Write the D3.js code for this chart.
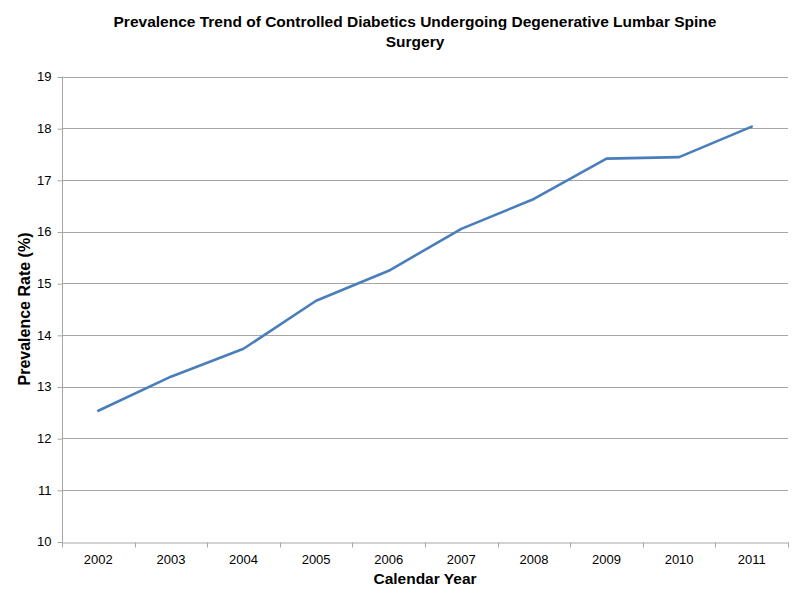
<!DOCTYPE html>
<html>
<head>
<meta charset="utf-8">
<script src="https://cdn.jsdelivr.net/npm/d3@7"></script>
<style>
body { margin: 0; background: #fff; }
text { font-family: "Liberation Sans", Arial, sans-serif; }
</style>
</head>
<body>
<svg id="chart" width="800" height="600"></svg>
<script>
const years = ["2002","2003","2004","2005","2006","2007","2008","2009","2010","2011"];
const prevalence = [12.53, 13.19, 13.73, 14.66, 15.24, 16.05, 16.63, 17.41, 17.44, 18.03];
const yTicks = [10, 11, 12, 13, 14, 15, 16, 17, 18, 19];
const titleLines = ["Prevalence Trend of Controlled Diabetics Undergoing Degenerative Lumbar Spine", "Surgery"];
const xTitle = "Calendar Year";
const yTitle = "Prevalence Rate (%)";

const svg = d3.select("#chart");
const m = {left: 62, right: 12, top: 76.5, bottom: 58.5};
const W = 800, H = 600;
const x = d3.scaleBand().domain(years).range([m.left, W - m.right]);
const y = d3.scaleLinear().domain([10, 19]).range([H - m.bottom, m.top]);

// gridlines
svg.append("g").selectAll("line").data(yTicks.slice(1)).join("line")
  .attr("x1", m.left).attr("x2", W - m.right)
  .attr("y1", d => Math.round(y(d)) + 0.5).attr("y2", d => Math.round(y(d)) + 0.5)
  .attr("stroke", "#a6a6a6").attr("stroke-width", 1);

// y axis
const yAxis = d3.axisLeft(y).tickValues(yTicks).tickSize(5).tickPadding(6).tickFormat(d3.format("d"));
const gy = svg.append("g").attr("transform", `translate(${m.left + 0.5},0)`).call(yAxis);
gy.select(".domain").attr("stroke", "#a6a6a6").attr("d", `M0,${y(19)}V${Math.round(y(10))+0.5}`);
gy.selectAll(".tick line").attr("stroke", "#a6a6a6").attr("transform", "translate(0,0.5)");
gy.selectAll(".tick text").attr("font-size", 13).attr("fill", "#000").attr("font-family", "Liberation Sans, Arial, sans-serif");

// x axis
const xAxis = d3.axisBottom(x).tickSize(0).tickPadding(12);
const gx = svg.append("g").attr("transform", `translate(0,${Math.round(y(10)) + 0.5})`).call(xAxis);
gx.select(".domain").attr("stroke", "#a6a6a6");
gx.selectAll(".tick text").attr("font-size", 13).attr("fill", "#000").attr("font-family", "Liberation Sans, Arial, sans-serif");
// boundary tick marks
gx.append("g").selectAll("line").data(years.concat(["end"])).join("line")
  .attr("x1", (d, i) => Math.round(m.left + i * x.step()) + 0.5)
  .attr("x2", (d, i) => Math.round(m.left + i * x.step()) + 0.5)
  .attr("y1", 0).attr("y2", 5).attr("stroke", "#a6a6a6");

// line
const line = d3.line().x((d, i) => x(years[i]) + x.bandwidth() / 2).y(d => y(d));
svg.append("path").datum(prevalence).attr("d", line)
  .attr("fill", "none").attr("stroke", "#4a7ebb").attr("stroke-width", 2.6)
  .attr("stroke-linejoin", "round").attr("stroke-linecap", "round");

// title
const cx = (m.left + W - m.right) / 2;
svg.append("text").attr("text-anchor", "middle").attr("font-weight", "bold").attr("font-size", 15.5)
  .selectAll("tspan").data(titleLines).join("tspan")
  .attr("x", 415).attr("y", (d, i) => 27 + i * 20).text(d => d);

svg.append("text").attr("x", cx).attr("y", 584).attr("text-anchor", "middle")
  .attr("font-weight", "bold").attr("font-size", 15.5).text(xTitle);

svg.append("text").attr("transform", `translate(30,${(y(10) + y(19)) / 2}) rotate(-90)`)
  .attr("text-anchor", "middle").attr("font-weight", "bold").attr("font-size", 16).text(yTitle);
</script>
</body>
</html>
